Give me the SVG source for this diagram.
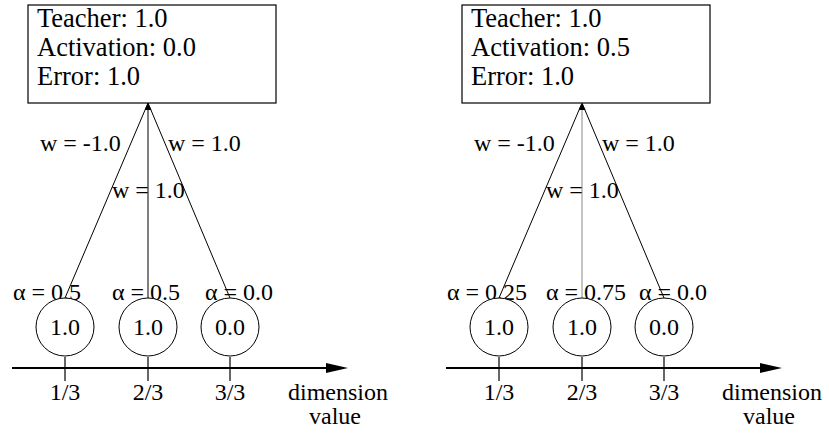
<svg xmlns="http://www.w3.org/2000/svg" width="829" height="433" viewBox="0 0 829 433">
<style>
text{font-family:"Liberation Serif","Times New Roman",serif;font-size:24px;fill:#000}
.big{font-size:26.5px}
.box{fill:#fff;stroke:#000;stroke-width:1.2}
.unit{fill:#fff;stroke:#000;stroke-width:1}
.con{stroke:#000;stroke-width:1;fill:none}
.gray{stroke:#888}
.axis{stroke:#000;stroke-width:2.2;fill:none}
.tick{stroke:#000;stroke-width:1.2}
.mid{text-anchor:middle}
</style>
<defs>
<marker id="tip" viewBox="0 0 10 10" refX="10" refY="5" markerWidth="7" markerHeight="7" markerUnits="userSpaceOnUse" orient="auto">
<path d="M0,0 L10,5 L0,10 Z" fill="#000"/>
</marker>
</defs>

<!-- Left panel -->
<g id="left-output">
<rect class="box" x="28" y="5" width="248" height="98"/>
<text class="big" x="37" y="27">Teacher: 1.0</text>
<text class="big" x="37" y="56">Activation: 0.0</text>
<text class="big" x="37" y="85">Error: 1.0</text>
</g>
<g id="left-connectors">
<line class="con" x1="65" y1="298" x2="148" y2="103"/>
<line class="con" x1="148" y1="298" x2="148" y2="103" marker-end="url(#tip)"/>
<line class="con" x1="230" y1="298" x2="148" y2="103"/>
<text x="40" y="151">w = -1.0</text>
<text x="168" y="151">w = 1.0</text>
<text x="112" y="198">w = 1.0</text>
</g>
<g id="left-unit1">
<text x="13" y="300">α = 0.5</text>
<circle class="unit" cx="65" cy="327" r="29"/>
<text class="mid" x="65" y="335">1.0</text>
</g>
<g id="left-unit2">
<text x="112" y="300">α = 0.5</text>
<circle class="unit" cx="148" cy="327" r="29"/>
<text class="mid" x="148" y="335">1.0</text>
</g>
<g id="left-unit3">
<text x="205" y="300">α = 0.0</text>
<circle class="unit" cx="230" cy="327" r="29"/>
<text class="mid" x="230" y="335">0.0</text>
</g>
<g id="left-axis">
<line class="axis" x1="12" y1="368" x2="330" y2="368"/>
<polygon points="326,363 348,368 326,373" fill="#000"/>
<line class="tick" x1="65" y1="357" x2="65" y2="381"/>
<line class="tick" x1="148" y1="357" x2="148" y2="381"/>
<line class="tick" x1="230" y1="357" x2="230" y2="381"/>
<text class="mid" x="65" y="400">1/3</text>
<text class="mid" x="148" y="400">2/3</text>
<text class="mid" x="230" y="400">3/3</text>
<text class="mid" x="338" y="400">dimension</text>
<text class="mid" x="335" y="424">value</text>
</g>

<!-- Right panel -->
<g id="right-output">
<rect class="box" x="462" y="5" width="248" height="98"/>
<text class="big" x="471" y="27">Teacher: 1.0</text>
<text class="big" x="471" y="56">Activation: 0.5</text>
<text class="big" x="471" y="85">Error: 1.0</text>
</g>
<g id="right-connectors">
<line class="con" x1="499" y1="298" x2="582" y2="103"/>
<line class="con gray" x1="582" y1="298" x2="582" y2="103" marker-end="url(#tip)"/>
<line class="con" x1="664" y1="298" x2="582" y2="103"/>
<text x="474" y="151">w = -1.0</text>
<text x="602" y="151">w = 1.0</text>
<text x="546" y="198">w = 1.0</text>
</g>
<g id="right-unit1">
<text x="447" y="300">α = 0.25</text>
<circle class="unit" cx="499" cy="327" r="29"/>
<text class="mid" x="499" y="335">1.0</text>
</g>
<g id="right-unit2">
<text x="546" y="300">α = 0.75</text>
<circle class="unit" cx="582" cy="327" r="29"/>
<text class="mid" x="582" y="335">1.0</text>
</g>
<g id="right-unit3">
<text x="639" y="300">α = 0.0</text>
<circle class="unit" cx="664" cy="327" r="29"/>
<text class="mid" x="664" y="335">0.0</text>
</g>
<g id="right-axis">
<line class="axis" x1="446" y1="368" x2="764" y2="368"/>
<polygon points="760,363 782,368 760,373" fill="#000"/>
<line class="tick" x1="499" y1="357" x2="499" y2="381"/>
<line class="tick" x1="582" y1="357" x2="582" y2="381"/>
<line class="tick" x1="664" y1="357" x2="664" y2="381"/>
<text class="mid" x="499" y="400">1/3</text>
<text class="mid" x="582" y="400">2/3</text>
<text class="mid" x="664" y="400">3/3</text>
<text class="mid" x="772" y="400">dimension</text>
<text class="mid" x="769" y="424">value</text>
</g>
</svg>
